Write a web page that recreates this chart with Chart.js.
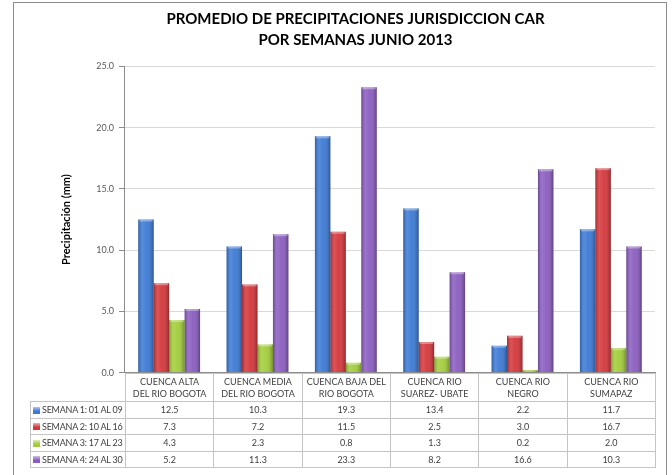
<!DOCTYPE html>
<html>
<head>
<meta charset="utf-8">
<script src="https://cdn.jsdelivr.net/npm/chart.js@4/dist/chart.umd.min.js"></script>
<style>
  body { margin: 0; background: #fff; width: 672px; height: 475px; overflow: hidden; position: relative; font-family: Lato, sans-serif; }
  #frame { position: absolute; left: 13px; top: 2px; width: 652px; height: 490px; border: 1px solid #8c8c8c; }
  #chartBox { position: absolute; left: 0; top: 0; width: 672px; height: 383px; }
  #dataTable { position: absolute; border-collapse: collapse; table-layout: fixed; font-size: 9px; color: #404040; }
  #dataTable td { border: 1px solid #c4c4c4; text-align: center; padding: 0; white-space: nowrap; overflow: hidden; line-height: 11px; }
  #dataTable tr { height: 16.5px; }
  #dataTable tr.head { height: 28px; }
  #dataTable tr.head td { line-height: 12px; }
  #dataTable td.corner { border-top: none; border-left: none; }
  #dataTable td.leg { text-align: left; padding-left: 2px; letter-spacing: -0.25px; }
  .sw { display: inline-block; width: 7px; height: 7px; margin-right: 2px; vertical-align: -0.5px; }
</style>
</head>
<body>
<div id="frame"></div>
<div id="chartBox"><canvas id="rainChart" width="672" height="383"></canvas></div>
<table id="dataTable"></table>
<script>
const categories = [
  ['CUENCA ALTA', 'DEL RIO BOGOTA'],
  ['CUENCA MEDIA', 'DEL RIO BOGOTA'],
  ['CUENCA BAJA DEL', 'RIO BOGOTA'],
  ['CUENCA RIO', 'SUAREZ- UBATE'],
  ['CUENCA RIO', 'NEGRO'],
  ['CUENCA RIO', 'SUMAPAZ']
];
const seriesNames = ['SEMANA 1: 01 AL 09', 'SEMANA 2: 10 AL 16', 'SEMANA 3: 17 AL 23', 'SEMANA 4: 24 AL 30'];
const semana1 = [12.5, 10.3, 19.3, 13.4, 2.2, 11.7];
const semana2 = [7.3, 7.2, 11.5, 2.5, 3.0, 16.7];
const semana3 = [4.3, 2.3, 0.8, 1.3, 0.2, 2.0];
const semana4 = [5.2, 11.3, 23.3, 8.2, 16.6, 10.3];
const seriesColors = ['#3b79d4', '#d4363a', '#a2cd3a', '#8a5cbf'];
const yMin = 0, yMax = 25, yStep = 5;

const allSeries = [semana1, semana2, semana3, semana4];

// shading so the bars look like the old office 3D-ish columns
const barShade = {
  id: 'barShade',
  afterDatasetsDraw(chart) {
    const c = chart.ctx;
    chart.data.datasets.forEach((ds, i) => {
      chart.getDatasetMeta(i).data.forEach(bar => {
        const l = bar.x - bar.width / 2;
        const w = bar.width;
        const top = Math.min(bar.y, bar.base);
        const h = Math.abs(bar.base - bar.y);
        const g = c.createLinearGradient(l, 0, l + w, 0);
        g.addColorStop(0, 'rgba(0,0,0,0.22)');
        g.addColorStop(0.25, 'rgba(255,255,255,0.15)');
        g.addColorStop(0.55, 'rgba(255,255,255,0.05)');
        g.addColorStop(1, 'rgba(0,0,0,0.30)');
        c.save();
        c.fillStyle = g;
        c.fillRect(l, top, w, h);
        if (h > 3) {
          c.fillStyle = 'rgba(255,255,255,0.35)';
          c.fillRect(l + 1, top, w - 2, 2);
        }
        c.restore();
      });
    });
  }
};

const ctx = document.getElementById('rainChart').getContext('2d');
const rainChart = new Chart(ctx, {
  type: 'bar',
  data: {
    labels: categories.map(c => c.join(' ')),
    datasets: allSeries.map((vals, i) => ({
      label: seriesNames[i],
      data: vals,
      backgroundColor: seriesColors[i],
      borderWidth: 0,
      categoryPercentage: 0.7,
      barPercentage: 1.0
    }))
  },
  options: {
    responsive: false,
    animation: false,
    layout: { padding: { left: 56, right: 17, top: 0, bottom: 0 } },
    plugins: {
      legend: { display: false },
      tooltip: { enabled: false },
      title: {
        display: true,
        text: ['PROMEDIO DE PRECIPITACIONES JURISDICCION CAR', 'POR SEMANAS JUNIO 2013'],
        color: '#000',
        font: { family: 'Lato', size: 15, weight: 'bold', lineHeight: 1.45 },
        padding: { top: 8, bottom: 15 }
      }
    },
    scales: {
      x: {
        ticks: { display: false },
        grid: { display: false, drawTicks: false },
        border: { color: '#8c8c8c' }
      },
      y: {
        min: yMin,
        max: yMax,
        ticks: {
          stepSize: yStep,
          callback: v => v.toFixed(1),
          color: '#595959',
          font: { family: 'Lato', size: 9 },
          padding: 5
        },
        grid: { color: '#d9d9d9', tickLength: 6, tickColor: '#8c8c8c' },
        border: { color: '#8c8c8c' },
        title: {
          display: true,
          text: 'Precipitación (mm)',
          color: '#000',
          font: { family: 'Lato', size: 11, weight: 'bold' },
          padding: { top: 4, bottom: 18 }
        }
      }
    }
  },
  plugins: [barShade]
});

function buildTable(chart) {
  const xs = chart.scales.x;
  const area = chart.chartArea;
  const colW = (xs.right - xs.left) / categories.length;
  const legLeft = 30;
  const tbl = document.getElementById('dataTable');
  tbl.style.left = legLeft + 'px';
  tbl.style.top = Math.round(area.bottom) + 'px';
  tbl.style.width = (xs.right - legLeft) + 'px';

  let html = '<colgroup><col style="width:' + (xs.left - legLeft) + 'px">';
  categories.forEach(() => { html += '<col style="width:' + colW + 'px">'; });
  html += '</colgroup><tr class="head"><td class="corner"></td>';
  categories.forEach(c => { html += '<td>' + c.join('<br>') + '</td>'; });
  html += '</tr>';
  allSeries.forEach((vals, i) => {
    html += '<tr><td class="leg"><span class="sw" style="background:linear-gradient(180deg,#fff -40%,' +
      seriesColors[i] + ' 60%)"></span>' + seriesNames[i] + '</td>';
    vals.forEach(v => { html += '<td>' + v.toFixed(1) + '</td>'; });
    html += '</tr>';
  });
  tbl.innerHTML = html;
}
buildTable(rainChart);
</script>
</body>
</html>
